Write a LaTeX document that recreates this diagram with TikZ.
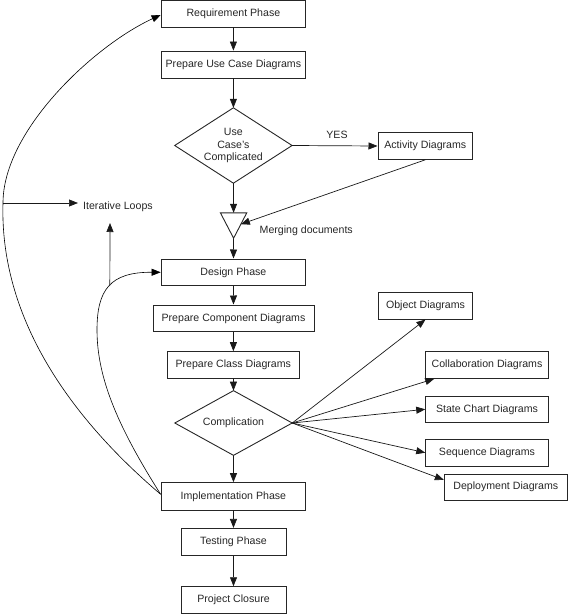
\documentclass[tikz,border=0pt]{standalone}
\usepackage{fontspec}
\setmainfont{Liberation Sans}
\usetikzlibrary{arrows.meta,shapes.geometric,calc}
\begin{document}
\begin{tikzpicture}[x=1pt,y=-1pt,
  txt/.style={font=\fontsize{10.6pt}{12.5pt}\selectfont, text=black!85},
  box/.style={txt, draw=black!85, line width=0.9pt, rectangle, inner sep=0pt, align=center},
  diabox/.style={txt, rectangle, inner sep=0pt, align=center},
  outline/.style={draw=black!85, line width=0.9pt, line join=miter},
  conn/.style={draw=black!90, line width=0.7pt, -{Triangle[length=9pt,width=7pt]}},
  curveconn/.style={draw=black, line width=0.6pt, -{Triangle[length=9pt,width=7pt]}}
]
\useasboundingbox (0,0) rectangle (568,615);

% main column
\node[box, minimum width=144.6pt, minimum height=27pt] (req) at (233.4,13.5) {Requirement Phase};
\node[box, minimum width=144.6pt, minimum height=27pt] (uc) at (233.4,64.5) {Prepare Use Case Diagrams};
\node[diabox, minimum width=117pt, minimum height=75pt] (d1) at (233.4,145.5) {Use\\Case's\\Complicated};
\draw[outline] (d1.north) -- (d1.east) -- (d1.south) -- (d1.west) -- cycle;
\node[box, minimum width=94.7pt, minimum height=26.7pt] (act) at (425.3,146) {Activity Diagrams};
\node[minimum width=26pt, minimum height=25pt, inner sep=0pt] (merge) at (233.6,225.5) {};
\draw[outline] (merge.north west) -- (merge.north east) -- (merge.south) -- cycle;
\node[box, minimum width=144.6pt, minimum height=26.7pt] (design) at (233.4,272.3) {Design Phase};
\node[box, minimum width=161pt, minimum height=26.7pt] (comp) at (233.5,318.3) {Prepare Component Diagrams};
\node[box, minimum width=131.3pt, minimum height=26.3pt] (cls) at (233.3,364.8) {Prepare Class Diagrams};
\node[diabox, minimum width=117pt, minimum height=64.3pt] (d2) at (233.5,423) {Complication};
\draw[outline] (d2.north) -- (d2.east) -- (d2.south) -- (d2.west) -- cycle;
\node[box, minimum width=144.6pt, minimum height=27.3pt] (impl) at (233.4,496.3) {Implementation Phase};
\node[box, minimum width=105pt, minimum height=26.7pt] (test) at (233.5,541.7) {Testing Phase};
\node[box, minimum width=105pt, minimum height=26.6pt] (close) at (233.5,600) {Project Closure};

% right column
\node[box, minimum width=94.4pt, minimum height=26.7pt] (obj) at (425.5,305.7) {Object Diagrams};
\node[box, minimum width=122.6pt, minimum height=27.3pt] (coll) at (487,364.7) {Collaboration Diagrams};
\node[box, minimum width=122.6pt, minimum height=26.7pt] (state) at (487,409.3) {State Chart Diagrams};
\node[box, minimum width=122.6pt, minimum height=26.7pt] (seq) at (487,452.7) {Sequence Diagrams};
\node[box, minimum width=123pt, minimum height=25.7pt] (dep) at (505.8,487.2) {Deployment Diagrams};

% labels
\node[txt] (yes) at (337,134.5) {YES};
\node[txt, anchor=west, inner sep=0pt] (mlabel) at (259.5,231) {Merging documents};
\node[txt, anchor=west, inner sep=0pt] (loops) at (83,207) {Iterative Loops};

% vertical flow
\draw[conn] (req) -- (uc);
\draw[conn] (uc) -- (d1.north);
\draw[conn] (d1.east) -- (act.west);
\draw[conn] (d1.south) -- (merge.north);
\draw[conn] (act.south) -- ($(merge.north east)!0.45!(merge.south)$);
\draw[conn] (merge.south) -- (design);
\draw[conn] (design) -- (comp);
\draw[conn] (comp) -- (cls);
\draw[conn] (cls) -- (d2.north);
\draw[conn] (d2.south) -- (impl);
\draw[conn] (impl) -- (test);
\draw[conn] (test) -- (close);

% fan-out
\draw[conn] (d2.east) -- (obj.south);
\draw[conn] (d2.east) -- ([xshift=9pt]coll.south west);
\draw[conn] (d2.east) -- (state.west);
\draw[conn] (d2.east) -- (seq.west);
\draw[conn] (d2.east) -- ([yshift=-6pt]dep.north west);

% loops
\coordinate (oj) at (3,203);
\coordinate (looptip) at (78,203);
\coordinate (iutip) at (110,223);
\draw[curveconn] ([yshift=2pt]impl.west) .. controls (50,400) and (0,300) .. (oj)
   .. controls (3,130) and (95,45) .. ([yshift=-1.5pt]req.west);
\draw[curveconn] ([yshift=2pt]impl.west) .. controls (120,430) and (97,380) .. (97,330)
   .. controls (97,290) and (110,272) .. coordinate[pos=0.5] (iu) (design.west);
\draw[conn] (oj) -- (looptip);
\draw[conn] (iu) -- (iutip);
\end{tikzpicture}
\end{document}
